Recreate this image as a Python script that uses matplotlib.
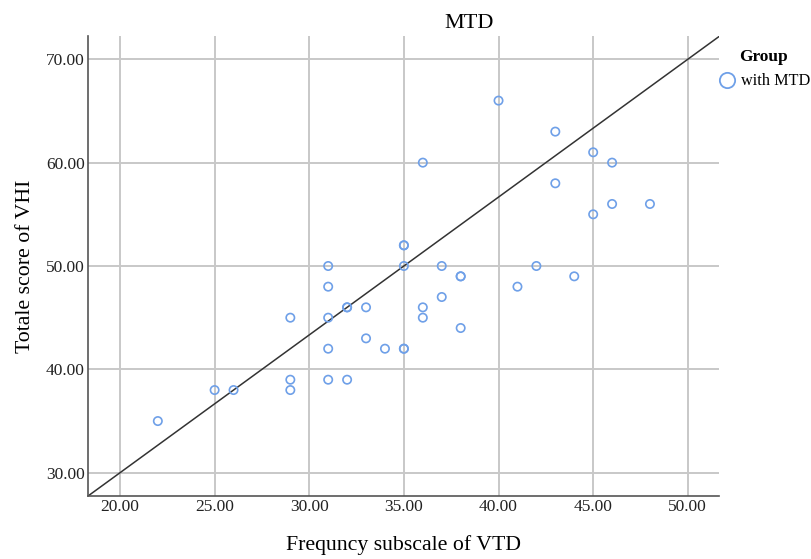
import matplotlib
matplotlib.use("Agg")
import matplotlib.pyplot as plt
from matplotlib.lines import Line2D
import numpy as np

plt.rcParams['font.family'] = ['Liberation Serif', 'DejaVu Serif']

# Data
vtd_freq = [22, 25, 26, 29, 29, 29, 31, 31, 31, 31, 31, 32, 32, 32, 33, 33, 34,
            35, 35, 35, 35, 35, 36, 36, 36, 37, 37, 38, 38, 38, 40, 41, 42,
            43, 43, 44, 45, 45, 46, 46, 48]
vhi_total = [35, 38, 38, 45, 39, 38, 50, 48, 45, 42, 39, 46, 46, 39, 46, 43, 42,
             52, 52, 50, 42, 42, 60, 46, 45, 50, 47, 49, 49, 44, 66, 48, 50,
             63, 58, 49, 61, 55, 60, 56, 56]
fit_slope = 4.0 / 3.0
fit_intercept = 10.0 / 3.0
x_ticks = [20, 25, 30, 35, 40, 45, 50]
y_ticks = [30, 40, 50, 60, 70]
x_lim = (18.31, 51.65)
y_lim = (27.75, 72.25)

fig = plt.figure(figsize=(8.11, 5.59), dpi=100)
ax = fig.add_axes([0.1085, 0.1127, 0.7781, 0.8229])

marker_color = '#6fa0e8'
ax.scatter(vtd_freq, vhi_total, s=36, facecolors='none', edgecolors=marker_color,
           linewidths=1.2, zorder=3)

xs = np.array(x_lim)
ax.plot(xs, fit_intercept + fit_slope * xs, color='#333333', lw=1.1, zorder=2)

ax.set_xlim(*x_lim)
ax.set_ylim(*y_lim)
ax.set_xticks(x_ticks)
ax.set_yticks(y_ticks)
ax.set_xticklabels([f"{v:.2f}" for v in x_ticks])
ax.set_yticklabels([f"{v:.2f}" for v in y_ticks])
ax.tick_params(length=0, labelsize=12.5, colors='#222222', pad=2.5)
ax.grid(True, color='#c8c8c8', lw=1.4)
ax.set_axisbelow(True)
for s in ['top', 'right']:
    ax.spines[s].set_visible(False)
for s in ['left', 'bottom']:
    ax.spines[s].set_color('#555555')
    ax.spines[s].set_linewidth(1.2)

fig.text(469.5 / 811, 1 - 23 / 559, 'MTD', fontsize=16, ha='center', va='center')
ax.set_xlabel('Frequncy subscale of VTD', fontsize=15.7, labelpad=14)
ax.set_ylabel('Totale score of VHI', fontsize=15.7, labelpad=8)

handle = Line2D([], [], marker='o', linestyle='none', markerfacecolor='none',
                markeredgecolor=marker_color, markersize=11, markeredgewidth=1.3)
leg = fig.legend([handle], ['with MTD'], title='Group', loc='upper left',
                 bbox_to_anchor=(0.8766, 0.9234), frameon=False, fontsize=11.7,
                 title_fontsize=12.5, handletextpad=0.25, handlelength=1.2,
                 borderaxespad=0)
leg.get_title().set_fontweight('bold')

fig.savefig('out.png', dpi=100)
